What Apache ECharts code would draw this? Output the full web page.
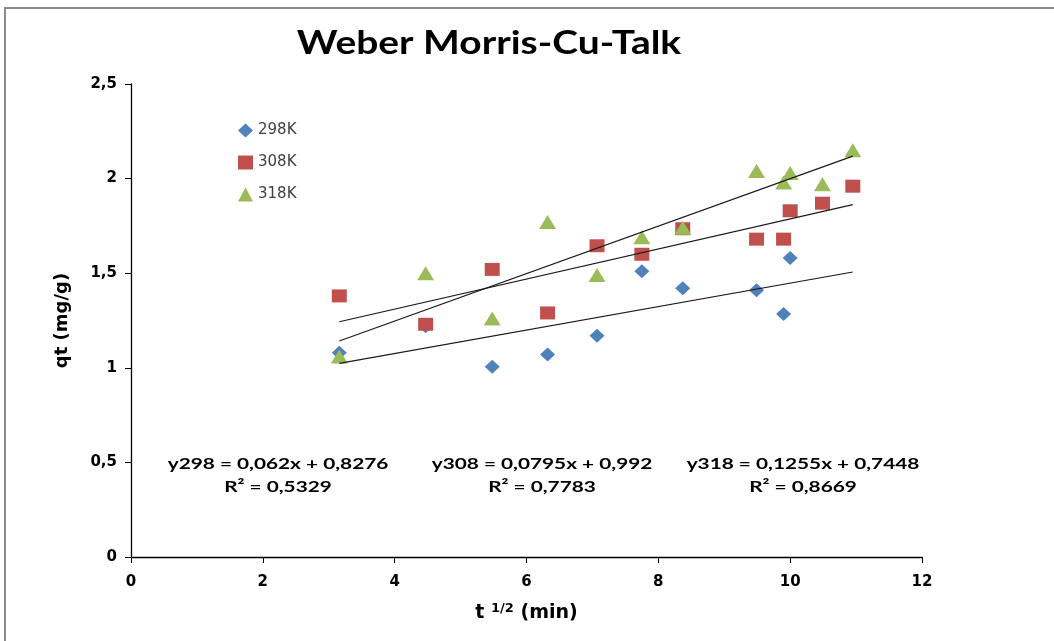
<!DOCTYPE html>
<html>
<head>
<meta charset="utf-8">
<script src="https://cdn.jsdelivr.net/npm/echarts@6/dist/echarts.min.js"></script>
<style>
  html, body { margin: 0; padding: 0; background: #ffffff; }
  #chart { width: 1054px; height: 641px; }
</style>
</head>
<body>
<div id="chart"></div>
<script>
// Square-root of contact time, t^(1/2) (min^0.5)
const xVals = [3.16, 4.47, 5.48, 6.32, 7.07, 7.75, 8.37, 9.49, 9.90, 10.00, 10.49, 10.95];

// Uptake qt (mg/g) per temperature
const q298 = [1.08, 1.22, 1.005, 1.07, 1.17, 1.51, 1.42, 1.41, 1.285, 1.58];
const q308 = [1.38, 1.23, 1.52, 1.29, 1.645, 1.60, 1.735, 1.68, 1.68, 1.83, 1.87, 1.96];
const q318 = [1.06, 1.50, 1.26, 1.77, 1.49, 1.69, 1.74, 2.04, 1.98, 2.03, 1.97, 2.15];

const seriesNames = ['298K', '308K', '318K'];

// Linear fits reported for each temperature
const slopes = [0.062, 0.0795, 0.1255];
const intercepts = [0.8276, 0.992, 0.7448];
const r2Values = ['0,5329', '0,7783', '0,8669'];
const fitRange = [3.16, 10.95];

const xTicks = [0, 2, 4, 6, 8, 10, 12];
const yTicks = [0, 0.5, 1, 1.5, 2, 2.5];

const colors = ['#4F81BD', '#C0504D', '#9BBB59'];
const symbols = ['diamond', 'rect', 'triangle'];
const symbolSizes = [[15, 14], [15, 13], [17, 14]];

const pairs = (ys) => ys.map((y, i) => [xVals[i], y]);
const qSets = [q298, q308, q318];

const fmt = (v) => String(v).replace('.', ',');

const scatterSeries = qSets.map((ys, i) => ({
  name: seriesNames[i],
  type: 'scatter',
  data: pairs(ys),
  symbol: symbols[i],
  symbolSize: symbolSizes[i],
  itemStyle: { color: colors[i], opacity: 1 },
  z: 3
}));

const fitSeries = slopes.map((m, i) => ({
  name: 'fit' + seriesNames[i],
  type: 'line',
  data: fitRange.map(x => [x, m * x + intercepts[i]]),
  symbol: 'none',
  lineStyle: { color: '#1a1a1a', width: 1.2 },
  silent: true,
  z: 4
}));

const labelFont = '"Lato", "Open Sans", sans-serif';
const axisFont = '"DejaVu Sans", sans-serif';
const eqCenters = [278, 542, 803];
const eqTexts = [];
slopes.forEach((m, i) => {
  const tag = seriesNames[i].replace('K', '');
  eqTexts.push({
    type: 'text', x: eqCenters[i], y: 464, scaleX: 1.3,
    style: {
      text: 'y' + tag + ' = ' + fmt(m) + 'x + ' + fmt(intercepts[i]),
      font: 'bold 16px ' + labelFont, fill: '#000', align: 'center', verticalAlign: 'middle'
    }
  });
  eqTexts.push({
    type: 'text', x: eqCenters[i], y: 487, scaleX: 1.3,
    style: {
      text: 'R² = ' + r2Values[i],
      font: 'bold 16px ' + labelFont, fill: '#000', align: 'center', verticalAlign: 'middle'
    }
  });
});

const chart = echarts.init(document.getElementById('chart'), null, { renderer: 'canvas' });

chart.setOption({
  animation: false,
  backgroundColor: '#ffffff',
  legend: {
    data: seriesNames,
    orient: 'vertical',
    left: 233, top: 118,
    itemGap: 17,
    itemWidth: 15, itemHeight: 14,
    textStyle: { fontFamily: axisFont, fontSize: 15, color: '#404040' }
  },
  grid: { left: 131, right: 132, top: 84, bottom: 84, containLabel: false },
  xAxis: {
    type: 'value',
    min: xTicks[0], max: xTicks[xTicks.length - 1], interval: 2,
    name: '{t|t }{s|1/2}{t| (min)}',
    nameLocation: 'middle', nameGap: 45,
    nameTextStyle: {
      rich: {
        t: { fontFamily: axisFont, fontWeight: 'bold', fontSize: 19, color: '#000' },
        s: { fontFamily: axisFont, fontWeight: 'bold', fontSize: 13, color: '#000', verticalAlign: 'top', padding: [0, 0, 9, 0] }
      }
    },
    axisLine: { lineStyle: { color: '#000', width: 1.3 } },
    axisTick: { show: true, inside: false, length: 6, lineStyle: { color: '#000' } },
    axisLabel: { margin: 18, fontFamily: axisFont, fontWeight: 'bold', fontSize: 15, color: '#000' },
    splitLine: { show: false }
  },
  yAxis: {
    type: 'value',
    min: yTicks[0], max: yTicks[yTicks.length - 1], interval: 0.5,
    name: 'qt (mg/g)',
    nameLocation: 'middle', nameGap: 60, nameRotate: 90,
    nameTextStyle: { fontFamily: axisFont, fontWeight: 'bold', fontSize: 18, color: '#000' },
    axisLine: { show: true, lineStyle: { color: '#000', width: 1.3 } },
    axisTick: { show: true, inside: false, length: 6, lineStyle: { color: '#000' } },
    axisLabel: {
      margin: 14, fontFamily: axisFont, fontWeight: 'bold', fontSize: 15, color: '#000',
      formatter: (v) => fmt(v)
    },
    splitLine: { show: false }
  },
  graphic: [
    {
      type: 'rect', shape: { x: 5, y: 8, width: 1200, height: 800 },
      style: { fill: 'none', stroke: '#8c8c8c', lineWidth: 2 }, silent: true, z: -1
    },
    {
      type: 'text', x: 489, y: 43, scaleX: 1.18,
      style: {
        text: 'Weber Morris-Cu-Talk',
        font: 'bold 33px ' + labelFont, fill: '#000', align: 'center', verticalAlign: 'middle'
      }
    }
  ].concat(eqTexts),
  series: scatterSeries.concat(fitSeries)
});
</script>
</body>
</html>
